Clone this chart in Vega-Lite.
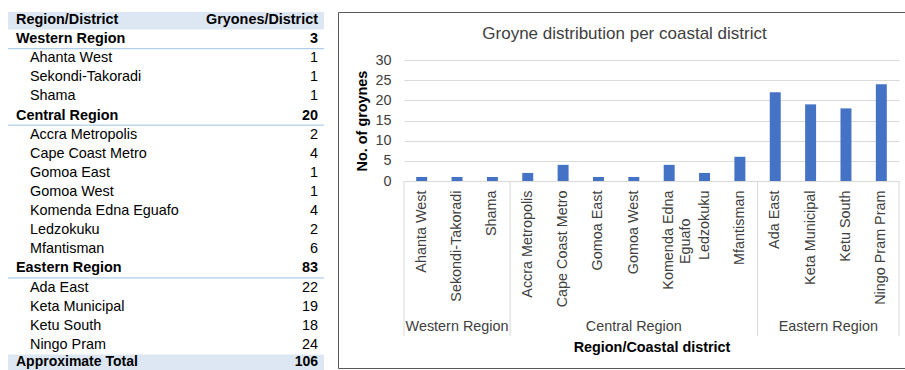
{
  "$schema": "https://vega.github.io/schema/vega-lite/v6.json",
  "padding": {"left": 8, "top": 11, "right": 0, "bottom": 0},
  "spacing": 13,
  "config": {
    "font": "Liberation Sans",
    "view": {"stroke": null},
    "axis": {"labelFont": "Liberation Sans", "titleFont": "Liberation Sans"},
    "text": {"font": "Liberation Sans"}
  },
  "datasets": {
    "table": [
      {"label": "Region/District", "value": "Gryones/District", "type": "header"},
      {"label": "Western Region", "value": "3", "type": "region"},
      {"label": "Ahanta West", "value": "1", "type": "district"},
      {"label": "Sekondi-Takoradi", "value": "1", "type": "district"},
      {"label": "Shama", "value": "1", "type": "district"},
      {"label": "Central Region", "value": "20", "type": "region"},
      {"label": "Accra Metropolis", "value": "2", "type": "district"},
      {"label": "Cape Coast Metro", "value": "4", "type": "district"},
      {"label": "Gomoa East", "value": "1", "type": "district"},
      {"label": "Gomoa West", "value": "1", "type": "district"},
      {"label": "Komenda Edna Eguafo", "value": "4", "type": "district"},
      {"label": "Ledzokuku", "value": "2", "type": "district"},
      {"label": "Mfantisman", "value": "6", "type": "district"},
      {"label": "Eastern Region", "value": "83", "type": "region"},
      {"label": "Ada East", "value": "22", "type": "district"},
      {"label": "Keta Municipal", "value": "19", "type": "district"},
      {"label": "Ketu South", "value": "18", "type": "district"},
      {"label": "Ningo Pram", "value": "24", "type": "district"},
      {"label": "Approximate Total", "value": "106", "type": "total"}
    ],
    "districts": [
      {"district": "Ahanta West", "region": "Western Region", "groynes": 1},
      {"district": "Sekondi-Takoradi", "region": "Western Region", "groynes": 1},
      {"district": "Shama", "region": "Western Region", "groynes": 1},
      {"district": "Accra Metropolis", "region": "Central Region", "groynes": 2},
      {"district": "Cape Coast Metro", "region": "Central Region", "groynes": 4},
      {"district": "Gomoa East", "region": "Central Region", "groynes": 1},
      {"district": "Gomoa West", "region": "Central Region", "groynes": 1},
      {"district": "Komenda Edna Eguafo", "region": "Central Region", "groynes": 4},
      {"district": "Ledzokuku", "region": "Central Region", "groynes": 2},
      {"district": "Mfantisman", "region": "Central Region", "groynes": 6},
      {"district": "Ada East", "region": "Eastern Region", "groynes": 22},
      {"district": "Keta Municipal", "region": "Eastern Region", "groynes": 19},
      {"district": "Ketu South", "region": "Eastern Region", "groynes": 18},
      {"district": "Ningo Pram Pram", "region": "Eastern Region", "groynes": 24}
    ],
    "regions": [
      {"region": "Western Region", "first": "Ahanta West", "mid": "Sekondi-Takoradi", "last": "Shama"},
      {"region": "Central Region", "first": "Accra Metropolis", "mid": "Gomoa West", "last": "Mfantisman"},
      {"region": "Eastern Region", "first": "Ada East", "mid": "Keta Municipal", "last": "Ningo Pram Pram"}
    ]
  },
  "hconcat": [
    {
      "width": 316,
      "height": 359,
      "data": {"name": "table"},
      "encoding": {
        "y": {"field": "label", "type": "ordinal", "sort": null,
              "scale": {"type": "band",
                        "domain": ["Region/District", "Western Region", "Ahanta West", "Sekondi-Takoradi", "Shama", "Central Region", "Accra Metropolis", "Cape Coast Metro", "Gomoa East", "Gomoa West", "Komenda Edna Eguafo", "Ledzokuku", "Mfantisman", "Eastern Region", "Ada East", "Keta Municipal", "Ketu South", "Ningo Pram", "Approximate Total"],
                        "range": [-1.5, 361.5], "paddingInner": 0, "paddingOuter": 0},
              "axis": null}
      },
      "layer": [
        {
          "transform": [{"filter": "datum.type == 'header' || datum.type == 'total'"}],
          "mark": {"type": "rect", "color": "#dde7f3", "clip": true},
          "encoding": {
            "x": {"datum": 0, "type": "quantitative", "scale": {"domain": [0, 1]}, "axis": null},
            "x2": {"datum": 1}
          }
        },
        {
          "transform": [{"filter": "datum.type == 'region'"}],
          "mark": {"type": "rule", "color": "#9dc3e6", "strokeWidth": 1, "clip": true},
          "encoding": {
            "y": {"field": "label", "type": "ordinal", "sort": null, "bandPosition": 1},
            "x": {"datum": 0, "type": "quantitative"},
            "x2": {"datum": 1}
          }
        },
        {
          "transform": [{"filter": "datum.type == 'header' || datum.type == 'region'"}],
          "mark": {"type": "text", "align": "left", "baseline": "middle", "dx": 8, "fontSize": 14.4, "fontWeight": "bold", "color": "#000000", "clip": true},
          "encoding": {"x": {"datum": 0, "type": "quantitative"}, "text": {"field": "label"}}
        },
        {
          "transform": [{"filter": "datum.type == 'district'"}],
          "mark": {"type": "text", "align": "left", "baseline": "middle", "dx": 22, "fontSize": 14.4, "color": "#000000", "clip": true},
          "encoding": {"x": {"datum": 0, "type": "quantitative"}, "text": {"field": "label"}}
        },
        {
          "transform": [{"filter": "datum.type == 'header' || datum.type == 'region'"}],
          "mark": {"type": "text", "align": "right", "baseline": "middle", "dx": -6, "fontSize": 14.4, "fontWeight": "bold", "color": "#000000", "clip": true},
          "encoding": {"x": {"datum": 1, "type": "quantitative"}, "text": {"field": "value"}}
        },
        {
          "transform": [{"filter": "datum.type == 'district'"}],
          "mark": {"type": "text", "align": "right", "baseline": "middle", "dx": -6, "fontSize": 14.4, "color": "#000000", "clip": true},
          "encoding": {"x": {"datum": 1, "type": "quantitative"}, "text": {"field": "value"}}
        },
        {
          "transform": [{"filter": "datum.type == 'total'"}],
          "mark": {"type": "text", "align": "left", "baseline": "middle", "dx": 8, "dy": -1.5, "fontSize": 14, "fontWeight": "bold", "color": "#000000", "clip": true},
          "encoding": {"x": {"datum": 0, "type": "quantitative"}, "text": {"field": "label"}}
        },
        {
          "transform": [{"filter": "datum.type == 'total'"}],
          "mark": {"type": "text", "align": "right", "baseline": "middle", "dx": -6, "dy": -1.5, "fontSize": 14, "fontWeight": "bold", "color": "#000000", "clip": true},
          "encoding": {"x": {"datum": 1, "type": "quantitative"}, "text": {"field": "value"}}
        }
      ]
    },
    {
      "width": 567,
      "height": 356,
      "view": {"stroke": "#595959", "strokeWidth": 1},
      "title": {"text": "Groyne distribution per coastal district", "fontSize": 17, "fontWeight": "normal", "color": "#404040", "anchor": "middle", "offset": -31, "dx": 3},
      "layer": [
        {
          "data": {"name": "districts"},
          "mark": {"type": "bar", "color": "#4472c4", "width": {"band": 0.31}},
          "encoding": {
            "x": {
              "field": "district", "type": "nominal", "sort": null, "title": "Region/Coastal district",
              "scale": {"domain": ["Ahanta West", "Sekondi-Takoradi", "Shama", "Accra Metropolis", "Cape Coast Metro", "Gomoa East", "Gomoa West", "Komenda Edna Eguafo", "Ledzokuku", "Mfantisman", "Ada East", "Keta Municipal", "Ketu South", "Ningo Pram Pram"],
                        "range": [66, 561], "paddingInner": 0, "paddingOuter": 0},
              "axis": {
                "orient": "bottom", "offset": -187,
                "titleFontSize": 14.4, "titleFontWeight": "bold", "titleColor": "#000000", "titlePadding": 34,
                "labelAngle": -90, "labelFontSize": 14.4, "labelColor": "#404040", "labelPadding": 9,
                "labelLineHeight": 17,
                "labelExpr": "datum.value == 'Komenda Edna Eguafo' ? ['Komenda Edna', 'Eguafo\u00a0\u00a0\u00a0\u00a0\u00a0\u00a0\u00a0\u200b'] : datum.value",
                "domain": false, "ticks": false, "grid": false
              }
            },
            "y": {
              "field": "groynes", "type": "quantitative", "title": "No. of groynes",
              "scale": {"domain": [0, 30], "range": [169, 48], "nice": false, "zero": true},
              "axis": {
                "orient": "left", "offset": -66, "values": [0, 5, 10, 15, 20, 25, 30],
                "titleFontSize": 14.4, "titleFontWeight": "bold", "titleColor": "#000000", "titlePadding": 5,
                "labelFontSize": 14.4, "labelColor": "#404040", "labelPadding": 13,
                "domain": false, "ticks": false, "grid": true, "gridColor": "#d9d9d9"
              }
            }
          }
        },
        {
          "data": {"name": "regions"},
          "mark": {"type": "rule", "color": "#d9d9d9"},
          "encoding": {
            "x": {"field": "first", "type": "nominal", "bandPosition": 0, "title": "Region/Coastal district"},
            "y": {"datum": 0, "type": "quantitative", "title": "No. of groynes"},
            "y2": {"datum": -38.4}
          }
        },
        {
          "data": {"name": "regions"},
          "transform": [{"filter": "datum.region == 'Eastern Region'"}],
          "mark": {"type": "rule", "color": "#d9d9d9"},
          "encoding": {
            "x": {"field": "last", "type": "nominal", "bandPosition": 1, "title": "Region/Coastal district"},
            "y": {"datum": 0, "type": "quantitative", "title": "No. of groynes"},
            "y2": {"datum": -38.4}
          }
        },
        {
          "data": {"name": "regions"},
          "transform": [{"filter": "datum.region != 'Eastern Region'"}],
          "mark": {"type": "text", "fontSize": 14.4, "color": "#404040", "baseline": "middle"},
          "encoding": {
            "x": {"field": "mid", "type": "nominal", "title": "Region/Coastal district"},
            "y": {"datum": -36.2, "type": "quantitative", "title": "No. of groynes"},
            "text": {"field": "region"}
          }
        },
        {
          "data": {"name": "regions"},
          "transform": [{"filter": "datum.region == 'Eastern Region'"}],
          "mark": {"type": "text", "fontSize": 14.4, "color": "#404040", "baseline": "middle"},
          "encoding": {
            "x": {"field": "mid", "type": "nominal", "bandPosition": 1, "title": "Region/Coastal district"},
            "y": {"datum": -36.2, "type": "quantitative", "title": "No. of groynes"},
            "text": {"field": "region"}
          }
        }
      ]
    }
  ]
}
